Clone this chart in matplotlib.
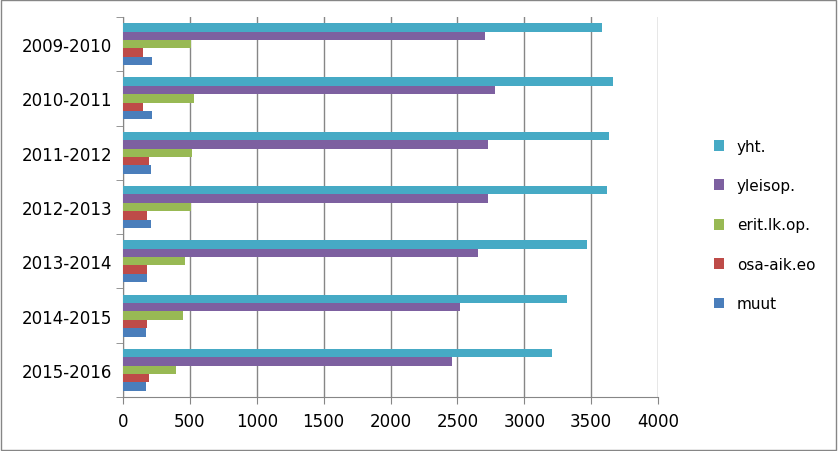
import matplotlib.pyplot as plt
import numpy as np

years = ["2009-2010", "2010-2011", "2011-2012", "2012-2013", "2013-2014", "2014-2015", "2015-2016"]
muut = [214, 214, 209, 209, 182, 174, 174]
osa_aik = [147, 147, 193, 182, 182, 182, 193]
erit = [505, 529, 513, 505, 463, 447, 396]
yleisop = [2709, 2783, 2727, 2727, 2655, 2521, 2460]
yht = [3578, 3666, 3636, 3618, 3471, 3321, 3209]

series = [("muut", muut, "#4A7EBB"), ("osa-aik.eo", osa_aik, "#BE4B48"),
          ("erit.lk.op.", erit, "#98B954"), ("yleisop.", yleisop, "#7D60A0"),
          ("yht.", yht, "#46AAC5")]

fig = plt.figure(figsize=(8.38, 4.52), dpi=100)
ax = fig.add_axes([123 / 838, 54 / 452, 535 / 838, 380 / 452])
y = np.arange(len(years))
h = 0.155
for i, (name, vals, col) in enumerate(series):
    # muut at bottom of each group, yht at top
    ax.barh(y + (2 - i) * h, vals, height=h, color=col, label=name, zorder=3)

ax.set_ylim(len(years) - 0.5, -0.5)
ax.set_xlim(0, 4000)
ax.set_xticks(range(0, 4001, 500))
ax.set_yticks(y)
ax.set_yticklabels(years)
ax.set_yticks(np.arange(-0.5, len(years), 1), minor=True)
ax.tick_params(axis="y", which="major", length=0, labelsize=12, pad=8)
ax.tick_params(axis="y", which="minor", length=5, color="#868686")
ax.tick_params(axis="x", length=5, color="#868686", labelsize=12, direction="out", pad=6)
ax.grid(axis="x", color="#868686", linewidth=1, zorder=0)
for s in ["top", "right"]:
    ax.spines[s].set_visible(False)
for s in ["left", "bottom"]:
    ax.spines[s].set_color("#868686")

handles, labels = ax.get_legend_handles_labels()
fig.legend(handles[::-1], labels[::-1], loc="center left", bbox_to_anchor=(700 / 838, 0.5),
           frameon=False, fontsize=11, handlelength=0.7, handleheight=0.7, labelspacing=1.6)

fig.patches.append(plt.Rectangle((0.001, 0.002), 0.997, 0.995, transform=fig.transFigure,
                                 fill=False, edgecolor="#868686", linewidth=1))
fig.savefig("out.png", dpi=100)
